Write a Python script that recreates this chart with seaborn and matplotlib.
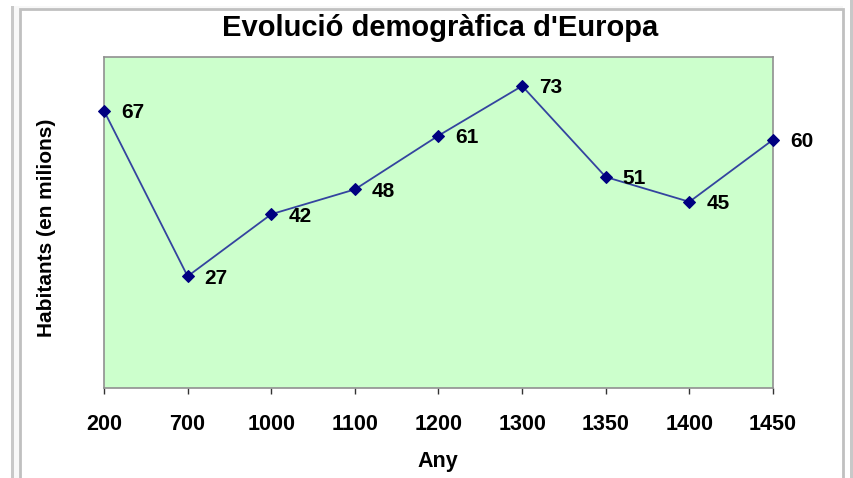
import matplotlib
matplotlib.use("Agg")
import matplotlib.pyplot as plt
from matplotlib.patches import Rectangle
import seaborn as sns
import numpy as np
import pandas as pd

# Data
years = ["200", "700", "1000", "1100", "1200", "1300", "1350", "1400", "1450"]
population = [67, 27, 42, 48, 61, 73, 51, 45, 60]
title = "Evolució demogràfica d'Europa"
xlabel = "Any"
ylabel = "Habitants (en milions)"

df = pd.DataFrame({"pos": np.arange(len(years)), "any": years, "hab": population})

sns.set_theme(style="white")
plt.rcParams["font.family"] = ["Liberation Sans", "DejaVu Sans"]

W, H = 854, 478
fig = plt.figure(figsize=(W / 100, H / 100), dpi=100)

def fx(px):
    return px / W

def fy(py):
    return 1 - py / H

# outer frame decorations
fig.patches.append(Rectangle((fx(11), fy(478)), fx(843) - fx(11), fy(6) - fy(478),
                             transform=fig.transFigure, facecolor="#f8f8f8",
                             edgecolor="none", zorder=-5))
fig.patches.append(Rectangle((fx(11), fy(478)), fx(3), fy(6) - fy(478),
                             transform=fig.transFigure, facecolor="#c8c8c8",
                             edgecolor="none", zorder=-5))
fig.patches.append(Rectangle((fx(850), fy(478)), fx(4), fy(0) - fy(478),
                             transform=fig.transFigure, facecolor="#c8c8c8",
                             edgecolor="none", zorder=-5))
fig.patches.append(Rectangle((fx(20), fy(480)), fx(843) - fx(20), fy(9) - fy(480),
                             transform=fig.transFigure, facecolor="white",
                             edgecolor="#c0c0c0", linewidth=2, zorder=-4))

ax = fig.add_axes([fx(104), fy(388), fx(773) - fx(104), fy(57) - fy(388)])
ax.set_zorder(2)
ax.set_facecolor("#ccffcc")

sns.lineplot(data=df, x="pos", y="hab", ax=ax, color="#34449f", linewidth=1.3,
             marker="D", markersize=6, markerfacecolor="#000080",
             markeredgecolor="#000080", sort=False, clip_on=False, zorder=3)

for i, v in zip(df["pos"], df["hab"]):
    ax.annotate(str(v), (i, v), xytext=(17, -2), textcoords="offset pixels",
                ha="left", va="center", fontsize=15, fontweight="bold",
                color="black", annotation_clip=False)

ax.set_xlim(0, len(years) - 1)
ax.set_ylim(0, 80)
ax.set_xticks(df["pos"])
ax.set_xticklabels(years, fontsize=15.5, fontweight="bold", color="black")
ax.set_yticks([])
ax.tick_params(axis="x", direction="out", length=4, width=1, color="#333333",
               pad=15, bottom=True)
for s in ax.spines.values():
    s.set_color("#909090")
    s.set_linewidth(1.2)
    s.set_visible(True)
ax.set_xlabel("")
ax.set_ylabel("")

fig.text(fx(440), fy(28), title, ha="center", va="center", fontsize=21,
         fontweight="bold", color="black")
fig.text(fx(438), fy(462), xlabel, ha="center", va="center", fontsize=15.5,
         fontweight="bold", color="black")
fig.text(fx(47), fy(228), ylabel, ha="center", va="center", rotation=90,
         fontsize=15, fontweight="bold", color="black")

fig.savefig("out.png", dpi=100)
